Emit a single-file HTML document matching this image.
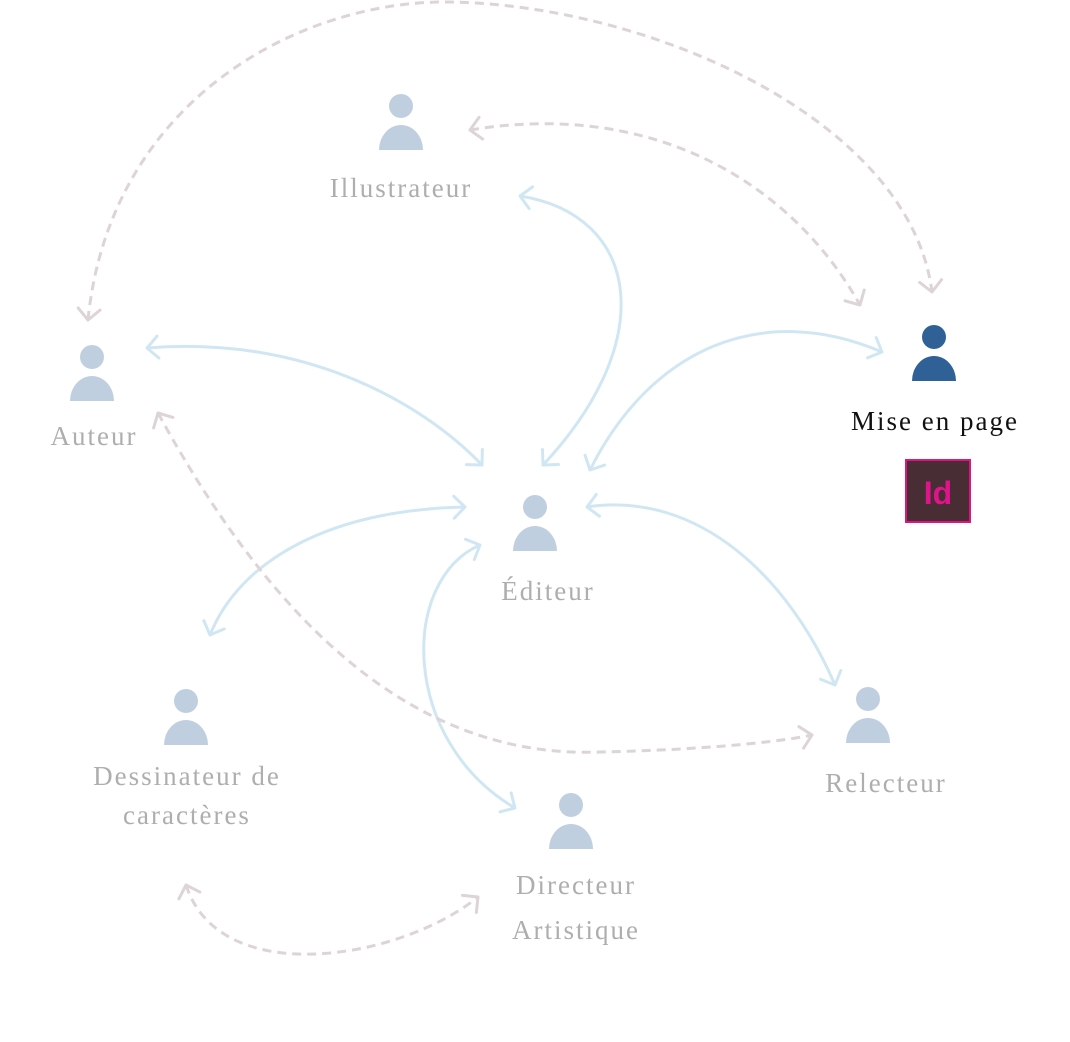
<!DOCTYPE html>
<html><head><meta charset="utf-8"><style>
html,body{margin:0;padding:0;background:#fff}
svg{display:block}
text{font-family:"Liberation Serif",serif;font-size:27px;letter-spacing:2px;fill:#aeaeae;text-anchor:middle}
</style></head><body>
<svg width="1070" height="1042" viewBox="0 0 1070 1042" xmlns="http://www.w3.org/2000/svg">
<defs>
<marker id="ab" markerUnits="userSpaceOnUse" markerWidth="26" markerHeight="26" viewBox="0 0 26 26" refX="13" refY="13" orient="auto-start-reverse">
<path d="M2,2 L13,13 L2,24" fill="none" stroke="#d0e7f3" stroke-width="3" stroke-linecap="round" stroke-linejoin="round"/>
</marker>
<marker id="ag" markerUnits="userSpaceOnUse" markerWidth="26" markerHeight="26" viewBox="0 0 26 26" refX="13" refY="13" orient="auto-start-reverse">
<path d="M2,2 L13,13 L2,24" fill="none" stroke="#ddd5d5" stroke-width="3" stroke-linecap="round" stroke-linejoin="round"/>
</marker>
</defs>
<g fill="none" stroke="#d0e7f3" stroke-width="3" marker-start="url(#ab)" marker-end="url(#ab)">
<path d="M520,196 C640,215 660,340 543,465"/>
<path d="M147,348 C300,335 420,400 482,465"/>
<path d="M882,352 C760,300 650,350 590,470"/>
<path d="M465,507 C330,510 240,560 210,635"/>
<path d="M480,545 C400,580 400,740 515,808"/>
<path d="M587,507 C700,490 790,580 835,685"/>
</g>
<g fill="none" stroke="#ddd5d5" stroke-width="3" stroke-dasharray="9,6" marker-start="url(#ag)" marker-end="url(#ag)">
<path d="M88,320 C110,100 300,0 450,2 C650,5 910,120 932,292"/>
<path d="M470,130 C650,100 790,180 860,305"/>
<path d="M158,413 C260,600 400,760 600,752 C700,750 780,742 812,735"/>
<path d="M186,885 C220,990 400,960 478,897"/>
</g>
<g fill="#c0cfe0">
<circle cx="401" cy="106" r="12"/><path d="M379,150 A22,25 0 0 1 423,150 Z"/>
<circle cx="92" cy="357" r="12"/><path d="M70,401 A22,25 0 0 1 114,401 Z"/>
<circle cx="535" cy="507" r="12"/><path d="M513,551 A22,25 0 0 1 557,551 Z"/>
<circle cx="186" cy="701" r="12"/><path d="M164,745 A22,25 0 0 1 208,745 Z"/>
<circle cx="868" cy="699" r="12"/><path d="M846,743 A22,25 0 0 1 890,743 Z"/>
<circle cx="571" cy="805" r="12"/><path d="M549,849 A22,25 0 0 1 593,849 Z"/>
</g>
<g fill="#2f6197">
<circle cx="934" cy="337" r="12"/><path d="M912,381 A22,25 0 0 1 956,381 Z"/>
</g>
<text x="401" y="197">Illustrateur</text>
<text x="94" y="445">Auteur</text>
<text x="935" y="430" style="fill:#111">Mise en page</text>
<text x="548" y="600">Éditeur</text>
<text x="187" y="785">Dessinateur de</text>
<text x="187" y="824">caractères</text>
<text x="886" y="792">Relecteur</text>
<text x="576" y="894">Directeur</text>
<text x="576" y="939">Artistique</text>
<rect x="906" y="460" width="64" height="62" fill="#492d35" stroke="#de1483" stroke-width="2"/>
<text x="938" y="504" style="font-family:'Liberation Sans',sans-serif;font-weight:bold;font-size:32px;letter-spacing:0;fill:#e0148a">Id</text>
</svg>
</body></html>
